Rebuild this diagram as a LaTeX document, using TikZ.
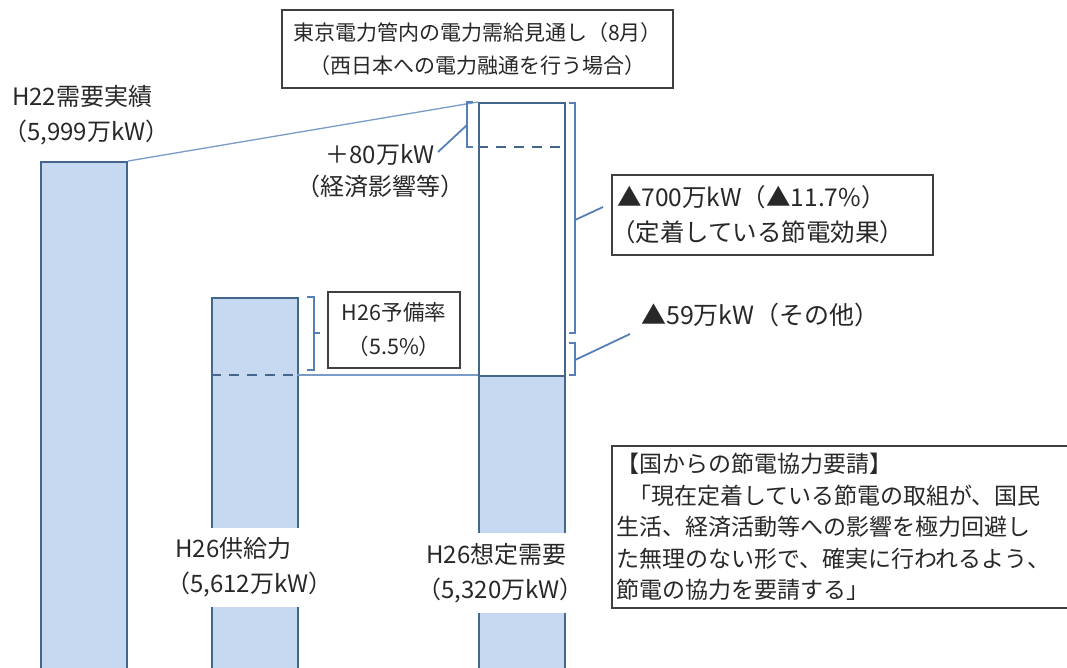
\documentclass[tikz,border=0pt]{standalone}
\usepackage{fontspec}
\setmainfont{Noto Sans CJK JP}
\definecolor{barfill}{RGB}{198,217,241}
\definecolor{barline}{RGB}{68,101,140}
\definecolor{leader}{RGB}{84,128,182}
\definecolor{thinline}{RGB}{120,155,200}
\definecolor{txt}{RGB}{40,40,40}
\begin{document}
\begin{tikzpicture}[x=1pt,y=-1pt,
  barbox/.style={draw=barline, line width=2.2pt, inner sep=0pt, anchor=north west, minimum width=86pt},
  boxed/.style={draw=black!75, line width=1.2pt, fill=white, inner sep=0pt, text=txt},
  lbl/.style={font=\fontsize{24}{35}\selectfont, inner sep=0pt, text=txt},
  brk/.style={draw=leader, line width=2pt},
  lead/.style={draw=leader, line width=1.8pt},
  thin/.style={draw=thinline, line width=1.3pt}]
\useasboundingbox (0,0) rectangle (1067,668);
\clip (0,0) rectangle (1067,668);
% bars
\node[barbox, fill=barfill, minimum height=520pt] (bar1) at (40,161) {};
\node[barbox, fill=barfill, minimum height=390pt] (bar2) at (211,297) {};
\node[barbox, fill=white, minimum height=273pt] (bar3top) at (478,102) {};
\node[barbox, fill=barfill, minimum height=310pt] (bar3low) at (478,375) {};
% dashed lines
\coordinate (b2l) at (211,375);
\coordinate (b2r) at (297,375);
\draw[barline, line width=2.2pt, dash pattern=on 10pt off 8pt] (b2l) -- (b2r);
\coordinate (b3l) at (478,147);
\coordinate (b3r) at (563,147);
\draw[barline, line width=2.2pt, dash pattern=on 10pt off 8pt] (b3l) -- (b3r);
% connectors
\draw[thin] (bar1.north east) -- (bar3top.north west);
\draw[thin] (b2r) -- (bar3low.north west);
% title
\node[boxed, minimum width=391pt, minimum height=78pt, align=center,
      font=\fontsize{21}{33}\selectfont] (title) at (477.5,49)
  {東京電力管内の電力需給見通し（8月）\\（西日本への電力融通を行う場合）};
% left label
\node[lbl, align=left, anchor=west] (h22) at (12,115)
  {H22需要実績\\\hspace{-9pt}（5,999万kW）};
% +80 bracket
\coordinate (p80a) at (473,102);
\coordinate (p80b) at (473,147);
\draw[brk] (p80a) -- (467,102) -- (467,147) -- (p80b);
\coordinate (p80m) at (467,125);
\node[lbl, align=center, font=\fontsize{24}{32}\selectfont] (l80) at (380,171)
  {＋80万kW\\（経済影響等）};
\draw[lead] (p80m) -- (438,152);
% 700 bracket
\draw[brk] (569,103) -- (575,103) -- (575,333) -- (569,333);
\coordinate (p700m) at (575,220);
\node[boxed, minimum width=321pt, minimum height=80pt, text width=311pt, align=left,
      font=\fontsize{24.5}{35}\selectfont] (l700) at (772.5,215)
  {▲700万kW（▲11.7\%）\\\hspace{-6pt}（定着している節電効果）};
\draw[lead] (p700m) -- (603,207);
% 59 bracket
\draw[brk] (569,343) -- (575,343) -- (575,375) -- (569,375);
\coordinate (p59m) at (575,360);
\node[lbl, anchor=west, font=\fontsize{25}{30}\selectfont] (l59) at (641,315) {▲59万kW（その他）};
\draw[lead] (p59m) -- (630,334);
% reserve bracket
\draw[brk] (307,297) -- (314,297) -- (314,370) -- (307,370);
\draw[brk] (314,333) -- (320,333);
\node[boxed, minimum width=132pt, minimum height=76pt, align=center,
      font=\fontsize{21.5}{34}\selectfont] (res) at (394,330)
  {H26予備率\\（5.5\%）};
% bar labels
\node[lbl, fill=white, align=left, minimum height=79pt, inner xsep=2pt] (l26s) at (254,567)
  {H26供給力\\\hspace{-9pt}（5,612万kW）};
\node[lbl, fill=white, align=left, minimum height=80pt, inner xsep=2pt] (l26d) at (505,573)
  {H26想定需要\\\hspace{-9pt}（5,320万kW）};
% request box
\node[boxed, minimum width=478pt, minimum height=162pt, text width=470pt, align=left,
      font=\fontsize{23}{31.5}\selectfont] (req) at (851,527)
  {【国からの節電協力要請】\\\hspace{12pt}「現在定着している節電の取組が、国民\\生活、経済活動等への影響を極力回避し\\た無理のない形で、確実に行われるよう、\\節電の協力を要請する」};
\end{tikzpicture}
\end{document}
